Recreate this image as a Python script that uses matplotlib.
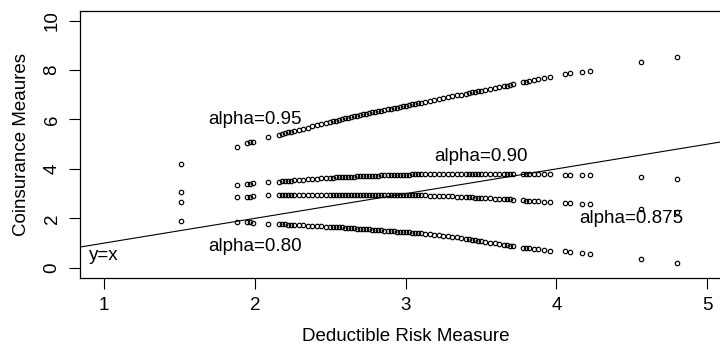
import matplotlib
matplotlib.use("Agg")
import matplotlib.pyplot as plt

plt.rcParams['font.family'] = ['Liberation Sans', 'DejaVu Sans']

# deductible risk measure (shared by all four series)
deductible = [1.51, 1.88, 1.95, 1.97, 1.99, 2.085, 2.16, 2.18, 2.20, 2.22,
              2.24, 2.26, 2.29, 2.32, 2.35, 2.38, 2.41, 2.44, 2.47, 2.50,
              2.52, 2.54, 2.56, 2.58, 2.60, 2.62, 2.64, 2.66, 2.68, 2.70,
              2.72, 2.74, 2.76, 2.78, 2.80, 2.82, 2.84, 2.86, 2.88, 2.90,
              2.92, 2.94, 2.96, 2.98, 3.00, 3.02, 3.04, 3.06, 3.08, 3.10,
              3.13, 3.16, 3.19, 3.22, 3.25, 3.28, 3.31, 3.34, 3.37, 3.40,
              3.42, 3.44, 3.46, 3.48, 3.50, 3.53, 3.56, 3.59, 3.62, 3.65,
              3.67, 3.69, 3.71, 3.78, 3.80, 3.82, 3.85, 3.88, 3.92, 3.96,
              4.06, 4.09, 4.17, 4.22, 4.56, 4.80]

# coinsurance measures
coins_95 = [4.18, 4.89, 5.03, 5.07, 5.10, 5.28, 5.39, 5.42, 5.45, 5.48,
            5.51, 5.54, 5.58, 5.63, 5.67, 5.72, 5.76, 5.80, 5.85, 5.89,
            5.92, 5.95, 5.98, 6.01, 6.04, 6.07, 6.10, 6.13, 6.16, 6.19,
            6.21, 6.24, 6.26, 6.29, 6.31, 6.33, 6.36, 6.38, 6.41, 6.43,
            6.46, 6.48, 6.51, 6.53, 6.56, 6.58, 6.61, 6.63, 6.65, 6.68,
            6.72, 6.76, 6.79, 6.83, 6.87, 6.90, 6.94, 6.98, 7.01, 7.05,
            7.07, 7.10, 7.12, 7.15, 7.17, 7.21, 7.24, 7.28, 7.31, 7.35,
            7.37, 7.40, 7.42, 7.51, 7.53, 7.56, 7.60, 7.64, 7.69, 7.73,
            7.84, 7.87, 7.93, 7.98, 8.31, 8.52]

coins_90 = [3.05, 3.35, 3.40, 3.41, 3.42, 3.46, 3.49, 3.50, 3.51, 3.52,
            3.53, 3.54, 3.55, 3.57, 3.58, 3.59, 3.61, 3.62, 3.63, 3.64,
            3.65, 3.66, 3.67, 3.67, 3.68, 3.68, 3.69, 3.69, 3.70, 3.70,
            3.71, 3.71, 3.72, 3.72, 3.73, 3.73, 3.74, 3.74, 3.75, 3.75,
            3.76, 3.76, 3.76, 3.77, 3.77, 3.77, 3.78, 3.78, 3.78, 3.78,
            3.79, 3.79, 3.79, 3.79, 3.80, 3.80, 3.80, 3.80, 3.80, 3.80,
            3.80, 3.80, 3.80, 3.81, 3.81, 3.81, 3.81, 3.81, 3.81, 3.81,
            3.81, 3.81, 3.81, 3.80, 3.80, 3.80, 3.80, 3.80, 3.79, 3.79,
            3.77, 3.77, 3.76, 3.75, 3.69, 3.58]

coins_875 = [2.67, 2.85, 2.87, 2.88, 2.89, 2.93, 2.95, 2.95, 2.96, 2.96,
             2.96, 2.96, 2.96, 2.96, 2.96, 2.96, 2.96, 2.96, 2.96, 2.96,
             2.96, 2.96, 2.96, 2.96, 2.96, 2.96, 2.96, 2.96, 2.96, 2.96,
             2.96, 2.96, 2.96, 2.96, 2.96, 2.96, 2.96, 2.96, 2.96, 2.95,
             2.95, 2.95, 2.95, 2.95, 2.95, 2.94, 2.94, 2.94, 2.94, 2.93,
             2.93, 2.92, 2.92, 2.91, 2.90, 2.90, 2.89, 2.88, 2.87, 2.86,
             2.86, 2.85, 2.84, 2.84, 2.83, 2.82, 2.81, 2.80, 2.79, 2.78,
             2.77, 2.77, 2.76, 2.73, 2.72, 2.71, 2.70, 2.69, 2.67, 2.66,
             2.63, 2.62, 2.60, 2.58, 2.38, 2.24]

coins_80 = [1.91, 1.85, 1.84, 1.84, 1.83, 1.79, 1.77, 1.76, 1.76, 1.75,
            1.74, 1.74, 1.73, 1.72, 1.71, 1.70, 1.69, 1.68, 1.67, 1.66,
            1.66, 1.65, 1.65, 1.64, 1.63, 1.62, 1.61, 1.60, 1.59, 1.58,
            1.57, 1.56, 1.55, 1.54, 1.53, 1.52, 1.51, 1.50, 1.49, 1.48,
            1.47, 1.46, 1.46, 1.45, 1.44, 1.43, 1.42, 1.41, 1.41, 1.40,
            1.38, 1.36, 1.34, 1.32, 1.30, 1.27, 1.25, 1.23, 1.21, 1.18,
            1.16, 1.14, 1.12, 1.10, 1.08, 1.05, 1.02, 0.99, 0.96, 0.93,
            0.91, 0.90, 0.88, 0.82, 0.80, 0.79, 0.77, 0.75, 0.72, 0.70,
            0.66, 0.64, 0.59, 0.55, 0.35, 0.21]

x_ticks = [1, 2, 3, 4, 5]
y_ticks = [0, 2, 4, 6, 8, 10]

fig = plt.figure(figsize=(7.2, 3.45), dpi=100)
ax = fig.add_axes([80 / 720, 67.3 / 345, 651.2 / 720, 267 / 345])

for ys in [coins_95, coins_90, coins_875, coins_80]:
    ax.plot(deductible, ys, linestyle='none', marker='o', markersize=3.2,
            markerfacecolor='none', markeredgecolor='black', markeredgewidth=0.85)

# y = x reference line
ax.axline((0, 0), slope=1, color='black', linewidth=0.8)

fs = 13.5
ax.text(2, 6, 'alpha=0.95', ha='center', va='center', fontsize=fs)
ax.text(3.5, 4.5, 'alpha=0.90', ha='center', va='center', fontsize=fs)
ax.text(4.5, 2, 'alpha=0.875', ha='center', va='center', fontsize=fs)
ax.text(2, 0.85, 'alpha=0.80', ha='center', va='center', fontsize=fs)
ax.text(1, 0.5, 'y=x', ha='center', va='center', fontsize=fs)

ax.set_xlim(0.84, 5.16)
ax.set_ylim(-0.4, 10.4)
ax.set_xticks(x_ticks)
ax.set_yticks(y_ticks)
ax.tick_params(length=8, width=0.8, labelsize=fs, pad=6)
ax.tick_params(axis='y', labelrotation=90)
for lbl in ax.get_yticklabels():
    lbl.set_va('center')
for sp in ax.spines.values():
    sp.set_linewidth(0.9)

ax.set_xlabel('Deductible Risk Measure', fontsize=fs, labelpad=10)
ax.set_ylabel('Coinsurance Meaures', fontsize=fs, labelpad=10)

fig.savefig('out.png', dpi=100)
